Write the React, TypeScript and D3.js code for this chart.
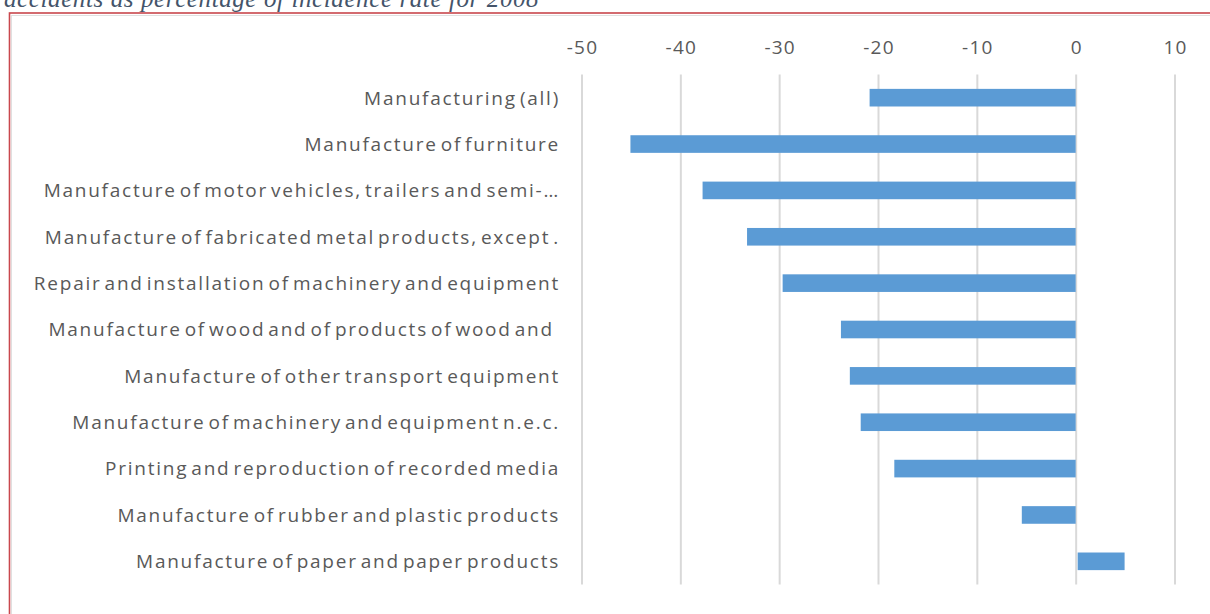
import { useEffect, useRef } from "react";
import * as d3 from "d3";

const WIDTH = 1210;
const HEIGHT = 614;

const categories = [
  "Manufacturing (all)",
  "Manufacture of furniture",
  "Manufacture of motor vehicles, trailers and semi-…",
  "Manufacture of fabricated metal products, except .",
  "Repair and installation of machinery and equipment",
  "Manufacture of wood and of products of wood and  ",
  "Manufacture of other transport equipment",
  "Manufacture of machinery and equipment n.e.c.",
  "Printing and reproduction of recorded media",
  "Manufacture of rubber and plastic products",
  "Manufacture of paper and paper products",
];
const values = [-20.9, -45.1, -37.8, -33.3, -29.7, -23.8, -22.9, -21.8, -18.4, -5.5, 4.9];
const ticks = [-50, -40, -30, -20, -10, 0, 10];

const PLOT = { left: 582, right: 1175, top: 74.5, bottom: 584.5 };
const BAR = "#5b9bd5";
const GRID = "#d9d9d9";
const TEXT = "#595959";
const FONT = "'Open Sans', sans-serif";

const App = () => {
  const ref = useRef<SVGSVGElement | null>(null);

  useEffect(() => {
    const svg = d3.select(ref.current);
    svg.selectAll("*").remove();

    // frame and the cut-off caption above it
    svg
      .append("text")
      .attr("x", 4)
      .attr("y", 7)
      .attr("font-family", "'Liberation Serif', serif")
      .attr("font-style", "italic")
      .attr("font-size", 25)
      .attr("letter-spacing", 0.6)
      .attr("fill", "#44546a")
      .text("accidents as percentage of incidence rate for 2008");

    svg
      .append("rect")
      .attr("x", 11.5)
      .attr("y", 15.5)
      .attr("width", WIDTH)
      .attr("height", HEIGHT)
      .attr("fill", "none")
      .attr("stroke", "#e0e0e0")
      .attr("stroke-width", 1);
    svg
      .append("rect")
      .attr("x", 9.5)
      .attr("y", 13)
      .attr("width", WIDTH)
      .attr("height", HEIGHT)
      .attr("fill", "none")
      .attr("stroke", "#c9474d")
      .attr("stroke-width", 1.6);

    const x = d3.scaleLinear().domain([-50, 10]).range([PLOT.left, PLOT.right]);
    const y = d3
      .scaleBand()
      .domain(categories)
      .range([PLOT.top, PLOT.bottom])
      .paddingInner(0.62)
      .paddingOuter(0.31);

    // grid
    svg
      .append("g")
      .selectAll("line")
      .data(ticks)
      .join("line")
      .attr("x1", (d) => x(d))
      .attr("x2", (d) => x(d))
      .attr("y1", PLOT.top)
      .attr("y2", PLOT.bottom)
      .attr("stroke", GRID)
      .attr("stroke-width", 2);

    // top axis labels
    const axis = svg
      .append("g")
      .attr("transform", `translate(0, 54)`)
      .call(
        d3
          .axisTop(x)
          .tickValues(ticks)
          .tickSize(0)
          .tickPadding(0)
          .tickFormat((d) => String(d))
      );
    axis.select(".domain").remove();
    axis
      .selectAll("text")
      .attr("font-family", FONT)
      .attr("font-size", 19)
      .attr("letter-spacing", 1.2)
      .attr("fill", TEXT);

    // bars
    svg
      .append("g")
      .selectAll("rect")
      .data(values)
      .join("rect")
      .attr("x", (d) => x(Math.min(0, d)) + (d > 0 ? 1.5 : 0))
      .attr("width", (d) => Math.abs(x(d) - x(0)) - (d > 0 ? 1.5 : 0.5))
      .attr("y", (_, i) => y(categories[i])!)
      .attr("height", y.bandwidth())
      .attr("fill", BAR);

    // category labels
    svg
      .append("g")
      .selectAll("text")
      .data(categories)
      .join("text")
      .attr("x", 560)
      .attr("y", (d) => y(d)! + y.bandwidth() / 2)
      .attr("dy", "0.36em")
      .attr("text-anchor", "end")
      .attr("font-family", FONT)
      .attr("font-size", 19)
      .attr("letter-spacing", 1.75)
      .attr("word-spacing", -3.6)
      .attr("fill", TEXT)
      .style("white-space", "pre")
      .text((d) => d);
  }, []);

  return (
    <svg
      ref={ref}
      width={WIDTH}
      height={HEIGHT}
      style={{ position: "absolute", left: 0, top: 0, background: "#fff" }}
    />
  );
};

export default App;
